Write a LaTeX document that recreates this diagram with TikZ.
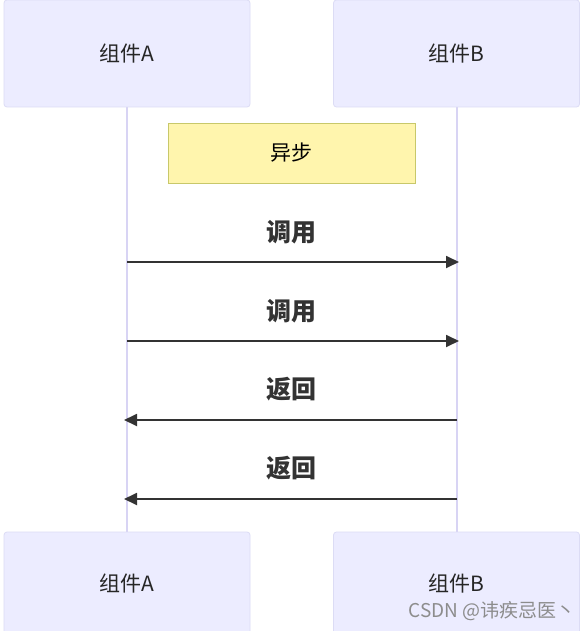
\documentclass[tikz,border=0pt]{standalone}
\usepackage{fontspec}
\setmainfont{Noto Sans CJK SC}
\usetikzlibrary{arrows.meta}
\definecolor{actfill}{HTML}{ECECFF}
\definecolor{actdraw}{HTML}{DCDCF5}
\definecolor{lifeline}{HTML}{D8D4F4}
\definecolor{notefill}{HTML}{FFF5AD}
\definecolor{notedraw}{HTML}{C8C86A}
\definecolor{msg}{HTML}{333333}
\tikzset{
  actor/.style={draw=actdraw, fill=actfill, rounded corners=3pt, line width=0.8pt,
    minimum width=246pt, minimum height=107pt, inner sep=0pt, font=\fontsize{21}{24}\selectfont, text=black!85},
  notebox/.style={draw=notedraw, fill=notefill, line width=0.8pt,
    minimum width=247pt, minimum height=60pt, inner sep=0pt, font=\fontsize{21}{24}\selectfont},
  life/.style={draw=lifeline, line width=1.5pt},
  msgline/.style={draw=msg, line width=1.8pt, -{Triangle[length=13pt,width=12pt]}},
  msglabel/.style={font=\fontsize{25}{28}\selectfont\bfseries, text=msg},
}
\begin{document}
\begin{tikzpicture}[x=1pt,y=1pt]
\clip (0,0) rectangle (588,-631);
\useasboundingbox (0,0) rectangle (588,-631);
\fill[white] (0,0) rectangle (588,-631);
% lifelines
\coordinate (la1) at (127,-107);
\coordinate (la2) at (127,-532);
\coordinate (lb1) at (457,-107);
\coordinate (lb2) at (457,-532);
\draw[life] (la1) -- (la2);
\draw[life] (lb1) -- (lb2);
% actors
\node[actor] (ta) at (127,-53.5) {组件A};
\node[actor] (tb) at (456.5,-53.5) {组件B};
\node[actor] (ba) at (127,-585.5) {};
\node[actor] (bb) at (456.5,-585.5) {};
\node[font=\fontsize{21}{24}\selectfont, text=black!85] (bat) at (127,-584) {组件A};
\node[font=\fontsize{21}{24}\selectfont, text=black!85] (bbt) at (456.5,-584) {组件B};
% note
\node[notebox] (note) at (291.5,-153) {异步};
% messages
\coordinate (a1) at (127,-262); \coordinate (b1) at (459,-262);
\coordinate (a2) at (127,-341); \coordinate (b2) at (459,-341);
\coordinate (a3) at (124,-420); \coordinate (b3) at (457,-420);
\coordinate (a4) at (124,-499); \coordinate (b4) at (457,-499);
\draw[msgline] (a1) -- (b1);
\draw[msgline] (a2) -- (b2);
\draw[msgline] (b3) -- (a3);
\draw[msgline] (b4) -- (a4);
\node[msglabel] (l1) at (291.5,-232) {调用};
\node[msglabel] (l2) at (291.5,-311) {调用};
\node[msglabel] (l3) at (291.5,-389) {返回};
\node[msglabel] (l4) at (291.5,-468) {返回};
% watermark
\node[font=\fontsize{19}{22}\selectfont, text=black!45, anchor=east, inner sep=0pt] (wm) at (576,-611) {CSDN @讳疾忌医丶};
\end{tikzpicture}
\end{document}
